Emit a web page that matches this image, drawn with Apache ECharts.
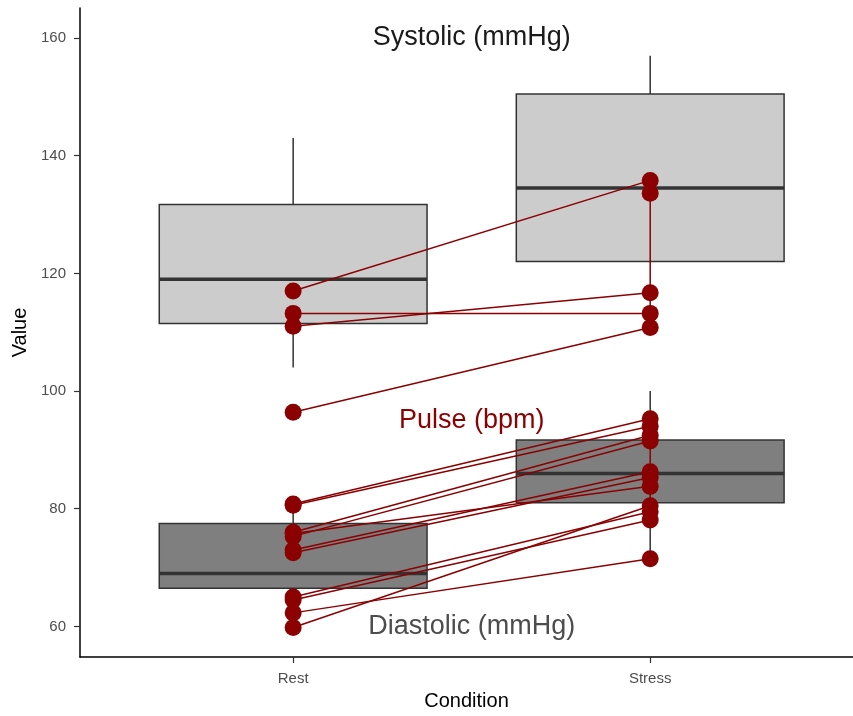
<!DOCTYPE html>
<html>
<head>
<meta charset="utf-8">
<script src="https://cdn.jsdelivr.net/npm/echarts@6/dist/echarts.min.js"></script>
<style>html,body{margin:0;padding:0;background:#fff;overflow:hidden}#c{width:853px;height:716px}</style>
</head>
<body>
<div id="c"></div>
<script>
const conditions = ['Rest', 'Stress'];
const yTicks = [60, 80, 100, 120, 140, 160];
// box stats: [lower whisker, Q1, median, Q3, upper whisker] for Rest, Stress
const systolicBox = [[104, 111.5, 119, 131.7, 143], [122, 122, 134.5, 150.5, 157]];
const diastolicBox = [[62, 66.5, 69, 77.5, 81], [71.5, 81, 86, 91.7, 100]];
// pulse per subject
const pulseRest   = [117, 113.2, 111, 96.4, null, 80.8, 80.6, 76.0, 75.3, 73.0, 72.5, 75.8, 65.0, 64.5, 62.3, 59.8];
const pulseStress = [135.8, 113.2, 116.7, 110.8, 133.6, 95.3, 94.0, 92.5, 91.5, 86.3, 85.3, 83.8, 79.5, 78.1, 71.5, 80.5];
// vertical connected runs at Stress
const stressRuns = [[135.8, 133.6, 116.7, 113.2, 110.8], [95.3, 94.0, 92.5, 91.5, 86.3, 85.3, 83.8, 80.5, 79.5, 78.1]];
const annotations = [
  {x: 1.5, y: 160, text: 'Systolic (mmHg)', color: '#1a1a1a'},
  {x: 1.5, y: 95, text: 'Pulse (bpm)', color: '#8b0000'},
  {x: 1.5, y: 60, text: 'Diastolic (mmHg)', color: '#4d4d4d'}
];

const FONT = "'Liberation Sans', Arial, sans-serif";
const RED = '#8b0000';

function boxSeries(stats, fill) {
  return {
    type: 'custom',
    silent: true,
    z: 1,
    data: stats.map((s, i) => [i + 1].concat(s)),
    encode: {x: 0, y: [1, 2, 3, 4, 5]},
    renderItem: function (params, api) {
      const x = api.value(0);
      const lo = api.coord([x, api.value(1)]);
      const q1 = api.coord([x, api.value(2)]);
      const md = api.coord([x, api.value(3)]);
      const q3 = api.coord([x, api.value(4)]);
      const hi = api.coord([x, api.value(5)]);
      const w = api.size([1, 0])[0] * 0.75;
      const cx = q1[0];
      const stroke = '#333333';
      return {
        type: 'group',
        children: [
          {type: 'line', shape: {x1: cx, y1: hi[1], x2: cx, y2: q3[1]}, style: {stroke: stroke, lineWidth: 1.5}},
          {type: 'line', shape: {x1: cx, y1: q1[1], x2: cx, y2: lo[1]}, style: {stroke: stroke, lineWidth: 1.5}},
          {type: 'rect', shape: {x: cx - w / 2, y: q3[1], width: w, height: q1[1] - q3[1]}, style: {fill: fill, stroke: stroke, lineWidth: 1.5}},
          {type: 'line', shape: {x1: cx - w / 2, y1: md[1], x2: cx + w / 2, y2: md[1]}, style: {stroke: stroke, lineWidth: 3.5}}
        ]
      };
    }
  };
}

const series = [boxSeries(systolicBox, '#cccccc'), boxSeries(diastolicBox, '#7f7f7f')];

pulseRest.forEach((r, i) => {
  if (r === null) return;
  series.push({
    type: 'line', silent: true, z: 3, symbol: 'none', animation: false,
    data: [[1, r], [2, pulseStress[i]]],
    lineStyle: {color: RED, width: 1.5}
  });
});
stressRuns.forEach(run => {
  series.push({
    type: 'line', silent: true, z: 3, symbol: 'none', animation: false,
    data: [[2, Math.max.apply(null, run)], [2, Math.min.apply(null, run)]],
    lineStyle: {color: RED, width: 1.5}
  });
});
const pts = [];
pulseRest.forEach(r => { if (r !== null) pts.push([1, r]); });
pulseStress.forEach(s => pts.push([2, s]));
series.push({
  type: 'scatter', silent: true, z: 4, symbolSize: 17, animation: false,
  data: pts, itemStyle: {color: RED, opacity: 1}
});
series.push({
  type: 'custom', silent: true, z: 5,
  data: annotations.map(a => [a.x, a.y]),
  encode: {x: 0, y: 1},
  renderItem: function (params, api) {
    const p = api.coord([api.value(0), api.value(1)]);
    const a = annotations[params.dataIndex];
    return {type: 'text', x: p[0], y: p[1], style: {text: a.text, fill: a.color, font: '27px ' + FONT, align: 'center', verticalAlign: 'middle'}};
  }
});

const chart = echarts.init(document.getElementById('c'), null, {renderer: 'canvas'});
chart.setOption({
  animation: false,
  backgroundColor: '#ffffff',
  textStyle: {fontFamily: FONT},
  grid: {left: 80, top: 8, right: 0, bottom: 37, containLabel: false},
  xAxis: {
    type: 'value', min: 0.403, max: 2.568,
    name: 'Condition', nameLocation: 'middle', nameGap: 34,
    nameTextStyle: {fontSize: 20, color: '#000', fontFamily: FONT},
    axisLine: {show: true, onZero: false, lineStyle: {color: '#000', width: 1.5}},
    axisTick: {show: true, customValues: [1, 2], length: 6, lineStyle: {color: '#333', width: 1.2}},
    axisLabel: {customValues: [1, 2], formatter: v => conditions[Math.round(v) - 1], fontSize: 15, color: '#4d4d4d', margin: 14, fontFamily: FONT},
    splitLine: {show: false}
  },
  yAxis: {
    type: 'value', min: 54.8, max: 165.1,
    name: 'Value', nameLocation: 'middle', nameGap: 46, nameRotate: 90,
    nameTextStyle: {fontSize: 20, color: '#000', fontFamily: FONT},
    axisLine: {show: true, onZero: false, lineStyle: {color: '#000', width: 1.5}},
    axisTick: {show: true, customValues: yTicks, length: 6, lineStyle: {color: '#333', width: 1.2}},
    axisLabel: {customValues: yTicks, fontSize: 15, color: '#4d4d4d', margin: 14, fontFamily: FONT},
    splitLine: {show: false}
  },
  series: series
});
</script>
</body>
</html>
